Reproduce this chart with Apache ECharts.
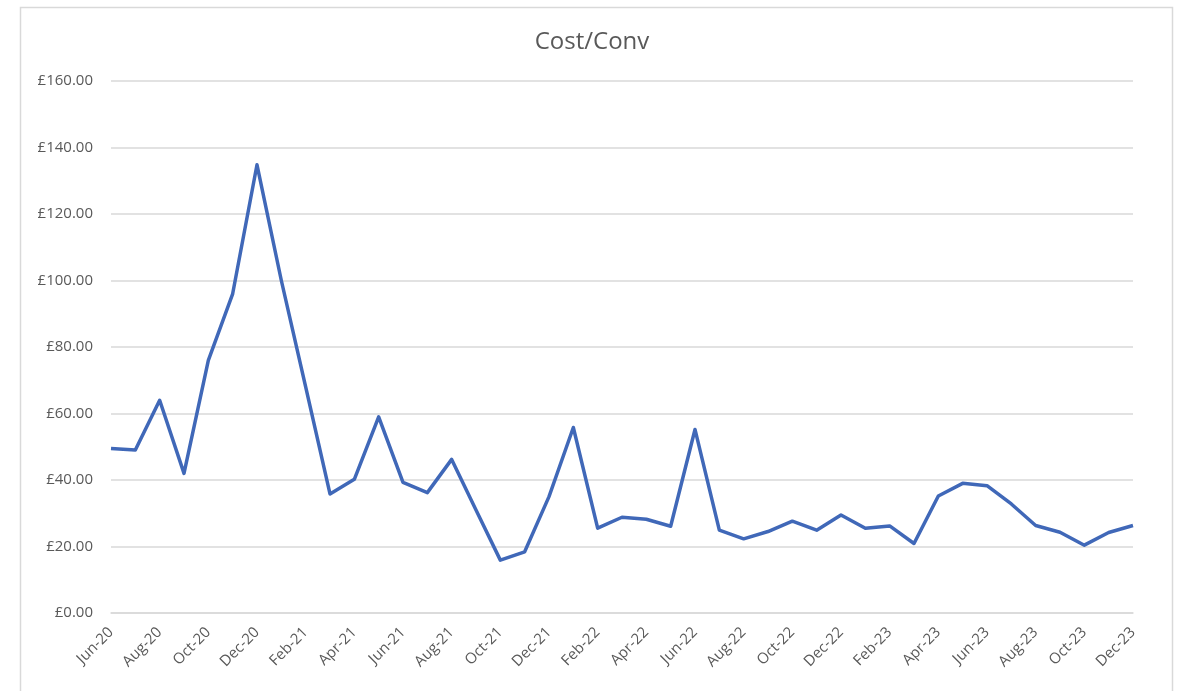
<!DOCTYPE html>
<html>
<head>
<meta charset="utf-8">
<title>Cost/Conv</title>
<script src="https://cdn.jsdelivr.net/npm/echarts@6/dist/echarts.min.js"></script>
<style>
  html, body { margin: 0; padding: 0; background: #fff; }
  #chart { width: 1184px; height: 691px; }
</style>
</head>
<body>
<div id="chart"></div>
<script>
// months, Jun-20 .. Dec-23
const months = [
  "Jun-20", "Jul-20", "Aug-20", "Sep-20", "Oct-20", "Nov-20", "Dec-20",
  "Jan-21", "Feb-21", "Mar-21", "Apr-21", "May-21", "Jun-21", "Jul-21",
  "Aug-21", "Sep-21", "Oct-21", "Nov-21", "Dec-21", "Jan-22", "Feb-22",
  "Mar-22", "Apr-22", "May-22", "Jun-22", "Jul-22", "Aug-22", "Sep-22",
  "Oct-22", "Nov-22", "Dec-22", "Jan-23", "Feb-23", "Mar-23", "Apr-23",
  "May-23", "Jun-23", "Jul-23", "Aug-23", "Sep-23", "Oct-23", "Nov-23",
  "Dec-23"
];

// cost per conversion (£)
const costPerConv = [
  49.5, 49, 64, 42, 76, 96, 134.8,
  100, 68, 35.8, 40.2, 59, 39.3, 36.2,
  46.2, 31, 15.9, 18.4, 35, 55.8, 25.5,
  28.8, 28.2, 26.1, 55.2, 24.9, 22.3, 24.5,
  27.6, 24.9, 29.5, 25.5, 26.2, 20.9, 35.2,
  39, 38.3, 32.8, 26.3, 24.3, 20.4, 24.2,
  26.3
];

const yTicks = { min: 0, max: 160, interval: 20 };

const chart = echarts.init(document.getElementById("chart"));

chart.setOption({
  backgroundColor: "#ffffff",
  animation: false,
  title: {
    text: "Cost/Conv",
    left: "center",
    top: 25,
    textStyle: {
      fontFamily: "Open Sans",
      fontSize: 24,
      fontWeight: "normal",
      color: "#595959"
    }
  },
  graphic: [{
    // outer chart frame
    type: "rect",
    shape: { x: 20.5, y: 7.5, width: 1152, height: 720 },
    style: { fill: "none", stroke: "#d9d9d9", lineWidth: 1.5 },
    silent: true
  }],
  grid: {
    left: 111,
    right: 51,
    top: 81,
    bottom: 78
  },
  xAxis: {
    type: "category",
    data: months,
    boundaryGap: false,
    axisTick: { show: false },
    axisLine: { lineStyle: { color: "#d9d9d9", width: 1.5 } },
    axisLabel: {
      interval: 1,
      rotate: 45,
      margin: 17,
      fontFamily: "Open Sans",
      fontSize: 15,
      color: "#595959"
    }
  },
  yAxis: {
    type: "value",
    min: yTicks.min,
    max: yTicks.max,
    interval: yTicks.interval,
    axisLine: { show: false },
    axisTick: { show: false },
    splitLine: { lineStyle: { color: "#d9d9d9", width: 1.5 } },
    axisLabel: {
      margin: 18,
      fontFamily: "Open Sans",
      fontSize: 15,
      color: "#595959",
      formatter: (v) => "£" + v.toFixed(2)
    }
  },
  series: [{
    name: "Cost/Conv",
    type: "line",
    data: costPerConv,
    symbol: "none",
    smooth: false,
    lineStyle: { color: "#4068b8", width: 3.5, join: "round" },
    itemStyle: { color: "#4068b8" }
  }]
});
</script>
</body>
</html>
